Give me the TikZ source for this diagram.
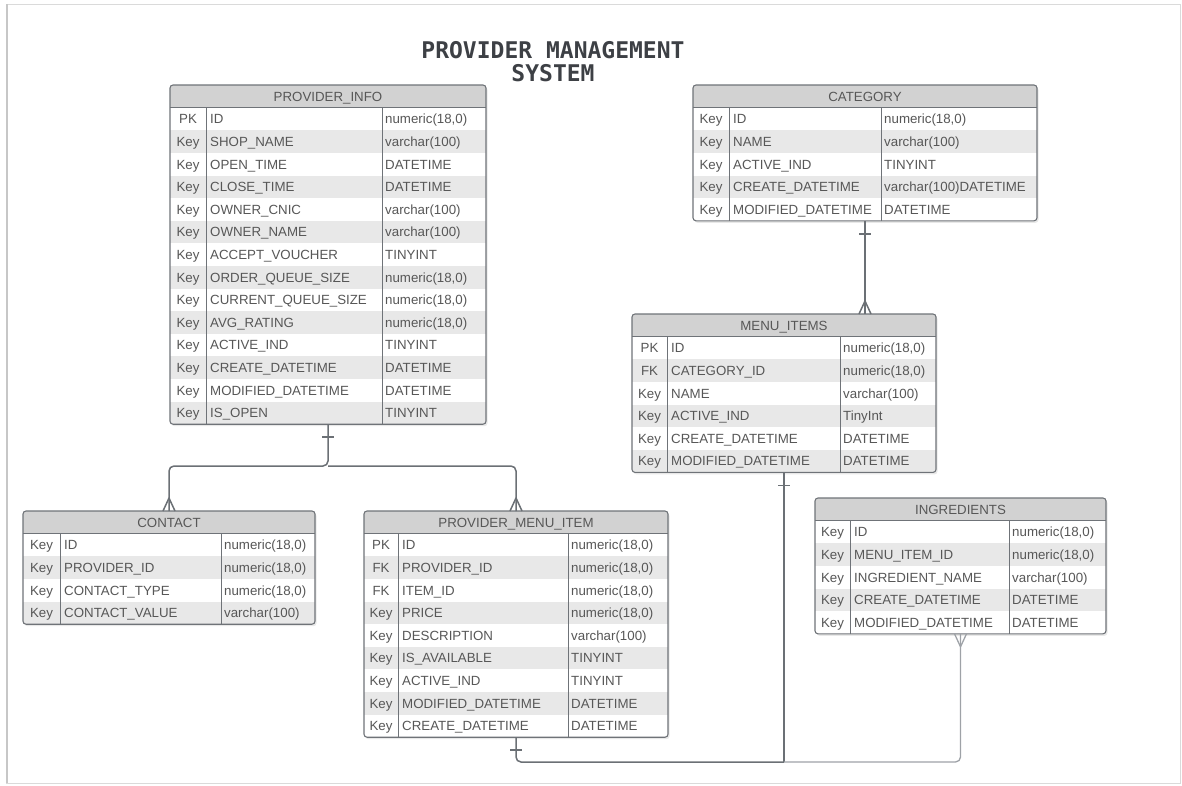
\documentclass[tikz,border=0pt]{standalone}
\usepackage{fontspec}
\setmainfont{Liberation Sans}
\newfontfamily\titlefont{DejaVu Sans Mono}

\definecolor{framec}{HTML}{6F7378}
\definecolor{headc}{HTML}{D2D2D2}
\definecolor{stripec}{HTML}{E8E8E8}
\definecolor{textc}{HTML}{575757}
\definecolor{linec}{HTML}{6B7075}
\definecolor{lightlinec}{HTML}{9EA2A7}
\definecolor{titlec}{HTML}{3D4045}
\definecolor{pagec}{HTML}{DADADA}

\def\rowh{22.6}
\def\headh{22.8}
\newcommand\nmr{numeric(18,0)}

\tikzset{
  tframe/.style={draw=framec, line width=1.1pt, rounded corners=3pt, inner sep=0pt, outer sep=0pt, anchor=north west},
  cell/.style={text=textc, font=\fontsize{13.3}{15}\selectfont, inner sep=0pt},
  titletext/.style={text=titlec, font=\titlefont\bfseries\fontsize{23}{23}\selectfont, inner sep=0pt, anchor=base},
  conn/.style={draw=linec, line width=1.5pt, line join=round},
  lightconn/.style={draw=lightlinec, line width=1.3pt, line join=round},
}

% ER table: #1 name, #2 left, #3 top, #4 right, #5 key divider, #6 type divider,
% #7 number of rows, #8 title, #9 rows as key/name/type
\newcommand\erdtable[9]{%
  \pgfmathsetmacro\hbot{#3+\headh}%
  \pgfmathsetmacro\tbot{#3+\headh+#7*\rowh}%
  \pgfmathsetmacro\tw{#4-#2}%
  \pgfmathsetmacro\th{\tbot-#3}%
  \fill[black!20, opacity=.45, rounded corners=3pt] (#2+1.5,#3+2) rectangle (#4+1.5,\tbot+2);
  \begin{scope}
    \clip[rounded corners=3pt] (#2,#3) rectangle (#4,\tbot);
    \fill[white] (#2,#3) rectangle (#4,\tbot);
    \fill[headc] (#2,#3) rectangle (#4,\hbot);
    \foreach \k/\n/\t [count=\i] in {#9}{%
      \pgfmathsetmacro\ry{\hbot+(\i-1)*\rowh}%
      \ifodd\i\else\fill[stripec] (#2,\ry) rectangle (#4,\ry+\rowh);\fi
    }
  \end{scope}
  \draw[framec, line width=1pt] (#2,\hbot) -- (#4,\hbot)
    (#5,\hbot) -- (#5,\tbot) (#6,\hbot) -- (#6,\tbot);
  \node[tframe, minimum width=\tw pt, minimum height=\th pt] (#1) at (#2,#3) {};
  \node[cell, anchor=base] (#1-title) at ({(#2+#4)/2},#3+16.3) {#8};
  \foreach \k/\n/\t [count=\i] in {#9}{%
    \pgfmathsetmacro\ry{\hbot+(\i-1)*\rowh+16}%
    \node[cell, anchor=base] (#1-k\i) at ({(#2+#5)/2},\ry) {\k};
    \node[cell, anchor=base west] (#1-n\i) at (#5+4,\ry) {\n};
    \node[cell, anchor=base west] (#1-t\i) at (#6+3,\ry) {\t};
  }
}

% relationship ends
\newcommand\onetick[1]{\draw[conn] ([xshift=-6pt,yshift=-13pt]#1) -- ([xshift=6pt,yshift=-13pt]#1);}
\newcommand\crowtop[1]{\draw[conn] ([xshift=-6pt]#1) -- ([yshift=13pt]#1) -- ([xshift=6pt]#1);}
\newcommand\crowbot[2][conn]{\draw[#1] ([xshift=-6pt]#2) -- ([yshift=-13pt]#2) -- ([xshift=6pt]#2);}

\begin{document}
\begin{tikzpicture}[x=1pt, y=-1pt]
\useasboundingbox (0,0) rectangle (1182,785);

% page sheet
\draw[pagec, line width=0.8pt] (6,4) rectangle (1180,783);
\draw[black!22, line width=2pt] (6.5,4) -- (6.5,783);

% title
\node[titletext] (title1) at (553,58) {PROVIDER MANAGEMENT};
\node[titletext] (title2) at (553,81) {SYSTEM};

% tables
\erdtable{pinfo}{170}{85}{486}{206}{382}{14}{PROVIDER\_INFO}{
  PK/ID/\nmr, Key/SHOP\_NAME/varchar(100), Key/OPEN\_TIME/DATETIME,
  Key/CLOSE\_TIME/DATETIME, Key/OWNER\_CNIC/varchar(100), Key/OWNER\_NAME/varchar(100),
  Key/ACCEPT\_VOUCHER/TINYINT, Key/ORDER\_QUEUE\_SIZE/\nmr, Key/CURRENT\_QUEUE\_SIZE/\nmr,
  Key/AVG\_RATING/\nmr, Key/ACTIVE\_IND/TINYINT, Key/CREATE\_DATETIME/DATETIME,
  Key/MODIFIED\_DATETIME/DATETIME, Key/IS\_OPEN/TINYINT}

\erdtable{cat}{693}{85}{1037}{729}{881}{5}{CATEGORY}{
  Key/ID/\nmr, Key/NAME/varchar(100), Key/ACTIVE\_IND/TINYINT,
  Key/CREATE\_DATETIME/varchar(100)DATETIME, Key/MODIFIED\_DATETIME/DATETIME}

\erdtable{mi}{632}{314}{936}{667}{840}{6}{MENU\_ITEMS}{
  PK/ID/\nmr, FK/CATEGORY\_ID/\nmr, Key/NAME/varchar(100),
  Key/ACTIVE\_IND/TinyInt, Key/CREATE\_DATETIME/DATETIME, Key/MODIFIED\_DATETIME/DATETIME}

\erdtable{ingr}{815}{498}{1106}{850}{1009}{5}{INGREDIENTS}{
  Key/ID/\nmr, Key/MENU\_ITEM\_ID/\nmr, Key/INGREDIENT\_NAME/varchar(100),
  Key/CREATE\_DATETIME/DATETIME, Key/MODIFIED\_DATETIME/DATETIME}

\erdtable{contact}{23}{511}{315}{60}{221}{4}{CONTACT}{
  Key/ID/\nmr, Key/PROVIDER\_ID/\nmr, Key/CONTACT\_TYPE/\nmr, Key/CONTACT\_VALUE/varchar(100)}

\erdtable{pmi}{364}{511}{668}{398}{568}{9}{PROVIDER\_MENU\_ITEM}{
  PK/ID/\nmr, FK/PROVIDER\_ID/\nmr, FK/ITEM\_ID/\nmr, Key/PRICE/\nmr,
  Key/DESCRIPTION/varchar(100), Key/IS\_AVAILABLE/TINYINT, Key/ACTIVE\_IND/TINYINT,
  Key/MODIFIED\_DATETIME/DATETIME, Key/CREATE\_DATETIME/DATETIME}

% relationships
\coordinate (j1) at (328,466);
\coordinate (j2) at (784,762);

\draw[conn, rounded corners=5pt] (pinfo.south) -- (pinfo.south |- j1) -| (contact.north);
\draw[conn, rounded corners=5pt] (pinfo.south |- j1) -| (pmi.north);
\onetick{pinfo.south}
\crowtop{contact.north}
\crowtop{pmi.north}

\draw[conn] (cat.south) -- (cat.south |- mi.north);
\onetick{cat.south}
\crowtop{cat.south |- mi.north}

\draw[conn] (mi.south) -- (mi.south |- j2);
\draw[conn, rounded corners=5pt] (mi.south |- j2) -| (pmi.south);
\draw[lightconn, rounded corners=5pt] (mi.south |- j2) -| (ingr.south);
\onetick{mi.south}
\onetick{pmi.south}
\crowbot[lightconn]{ingr.south}
\end{tikzpicture}
\end{document}
